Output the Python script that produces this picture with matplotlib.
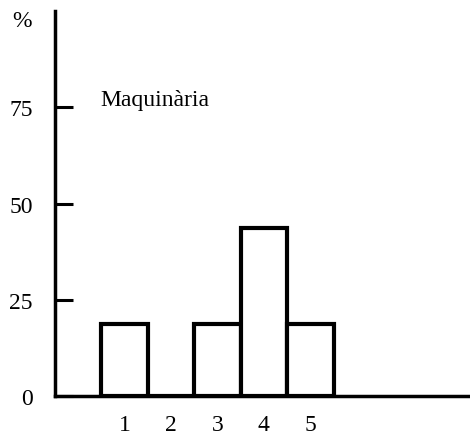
import matplotlib.pyplot as plt

# classes on the x axis and share (%) in each
categories = [1, 2, 3, 4, 5]
shares = [18.75, 0, 18.75, 43.75, 18.75]
y_ticks = [0, 25, 50, 75]
label = 'Maquinària'


def main():
	plt.rcParams['font.family'] = ['Liberation Serif', 'DejaVu Serif']

	fig = plt.figure(figsize=(4.7, 4.35), dpi=100)
	ax = fig.add_axes([0.117, 0.087, 0.879, 0.885])

	ax.bar(categories, shares, width=1.0, color='white', edgecolor='black', linewidth=3)

	ax.set_xlim(-0.5, 8.4)
	ax.set_ylim(0, 100)

	for side in ['top', 'right']:
		ax.spines[side].set_visible(False)
	for side in ['left', 'bottom']:
		ax.spines[side].set_linewidth(2.5)

	ax.set_yticks(y_ticks)
	ax.set_yticklabels([str(v) for v in y_ticks], fontsize=17)
	ax.tick_params(axis='y', direction='in', length=13, width=2.2, pad=16)

	ax.set_xticks(categories)
	ax.set_xticklabels([str(c) for c in categories], fontsize=17)
	ax.tick_params(axis='x', length=0, pad=13)

	ax.text(-1.0, 97.5, '%', fontsize=17, ha='right', va='center')
	ax.text(0.47, 77, label, fontsize=17, ha='left', va='center')

	fig.savefig('out.png', dpi=100)


if __name__ == '__main__':
	main()
